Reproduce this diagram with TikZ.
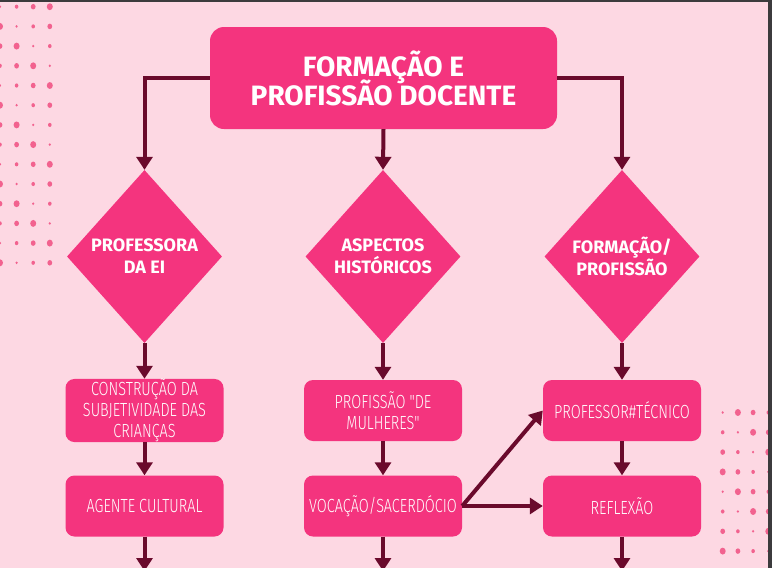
\documentclass[tikz,border=0pt]{standalone}
\usepackage{fontspec}
\setmainfont{Fira Sans}
\newfontfamily\boxfont[FakeStretch=0.76]{Fira Sans Light}
\usetikzlibrary{shapes.geometric,arrows.meta}
\newcommand\mytightlines{\lineskiplimit=-100pt\relax\lineskip=0pt\relax}
\definecolor{bgpink}{HTML}{FDD8E3}
\definecolor{hotpink}{HTML}{F4347E}
\definecolor{maroon}{HTML}{6A0A2C}
\definecolor{dotpink}{HTML}{F2628F}
\definecolor{frame}{HTML}{3C3B3D}
\tikzset{
  titlebox/.style={rectangle, rounded corners=14pt, fill=hotpink, text=white,
    minimum width=347pt, minimum height=102pt, inner sep=0pt, align=center,
    font=\bfseries\fontsize{28}{29}\selectfont\mytightlines},
  dia/.style={diamond, fill=hotpink, text=white, minimum width=155pt,
    minimum height=173pt, inner sep=0pt, align=center,
    font=\bfseries\fontsize{18}{22}\selectfont\mytightlines},
  itembox/.style={rectangle, rounded corners=9pt, fill=hotpink, text=white,
    minimum width=158pt, minimum height=61pt, inner sep=0pt, align=center,
    font=\boxfont\fontsize{19}{21}\selectfont\mytightlines},
  conn/.style={draw=maroon, line width=4pt,
    -{Triangle[width=16pt,length=13pt]}},
  dot/.style={fill=dotpink}
}
\begin{document}
\begin{tikzpicture}[x=1pt,y=-1pt]
\clip (0,0) rectangle (772,568);
\fill[bgpink] (0,0) rectangle (772,568);
% decorative dots
\foreach \i in {0,...,3}{
  \foreach \j in {0,...,13}{
    \pgfmathsetmacro\r{1.2+0.6*mod(\i*5+\j*3,4)}
    \fill[dot] (\i*16.6, 6.7+\j*19.7) circle[x radius=\r pt, y radius=1.15*\r pt];
  }
}
\foreach \i in {0,...,3}{
  \foreach \j in {0,...,7}{
    \pgfmathsetmacro\r{1.2+0.6*mod(\i*3+\j*5,4)}
    \fill[dot] (722.7+\i*15.2, 412.5+\j*19.8) circle[x radius=\r pt, y radius=1.15*\r pt];
  }
}
% frame strips
\fill[frame] (0,0) rectangle (772,2);
\fill[frame] (768,0) rectangle (772,568);
% nodes
\node[titlebox] (title) at (383.5,78) {FORMAÇÃO E\\PROFISSÃO DOCENTE};
\node[dia] (d1) at (144.5,256.5) {PROFESSORA\\DA EI};
\node[dia] (d2) at (383,256.5) {ASPECTOS\\HISTÓRICOS};
\node[dia] (d3) at (622,256.5) {FORMAÇÃO/\\PROFISSÃO};
\node[itembox] (b1) at (144.5,410.5) {CONSTRUÇÃO DA\\SUBJETIVIDADE DAS\\CRIANÇAS};
\node[itembox] (b2) at (144.5,506) {AGENTE CULTURAL};
\node[itembox] (m1) at (383,410.5) {PROFISSÃO "DE\\MULHERES"};
\node[itembox] (m2) at (383,506) {VOCAÇÃO/SACERDÓCIO};
\node[itembox] (r1) at (622,410.5) {PROFESSOR\#TÉCNICO};
\node[itembox] (r2) at (622,506) {REFLEXÃO};
\coordinate (e1) at (144.5,571);
\coordinate (e2) at (383,571);
\coordinate (e3) at (622,571);
% connectors
\draw[conn] (title.west) -| (d1.north);
\draw[conn] (title.south) -- (d2.north);
\draw[conn] (title.east) -| (d3.north);
\draw[conn] (d1.south) -- (b1.north);
\draw[conn] (d2.south) -- (m1.north);
\draw[conn] (d3.south) -- (r1.north);
\draw[conn] (b1.south) -- (b2.north);
\draw[conn] (m1.south) -- (m2.north);
\draw[conn] (r1.south) -- (r2.north);
\draw[conn] (b2.south) -- (e1);
\draw[conn] (m2.south) -- (e2);
\draw[conn] (r2.south) -- (e3);
\draw[conn] (m2.east) -- (r1.west);
\draw[conn] (m2.east) -- (r2.west);
\end{tikzpicture}
\end{document}
